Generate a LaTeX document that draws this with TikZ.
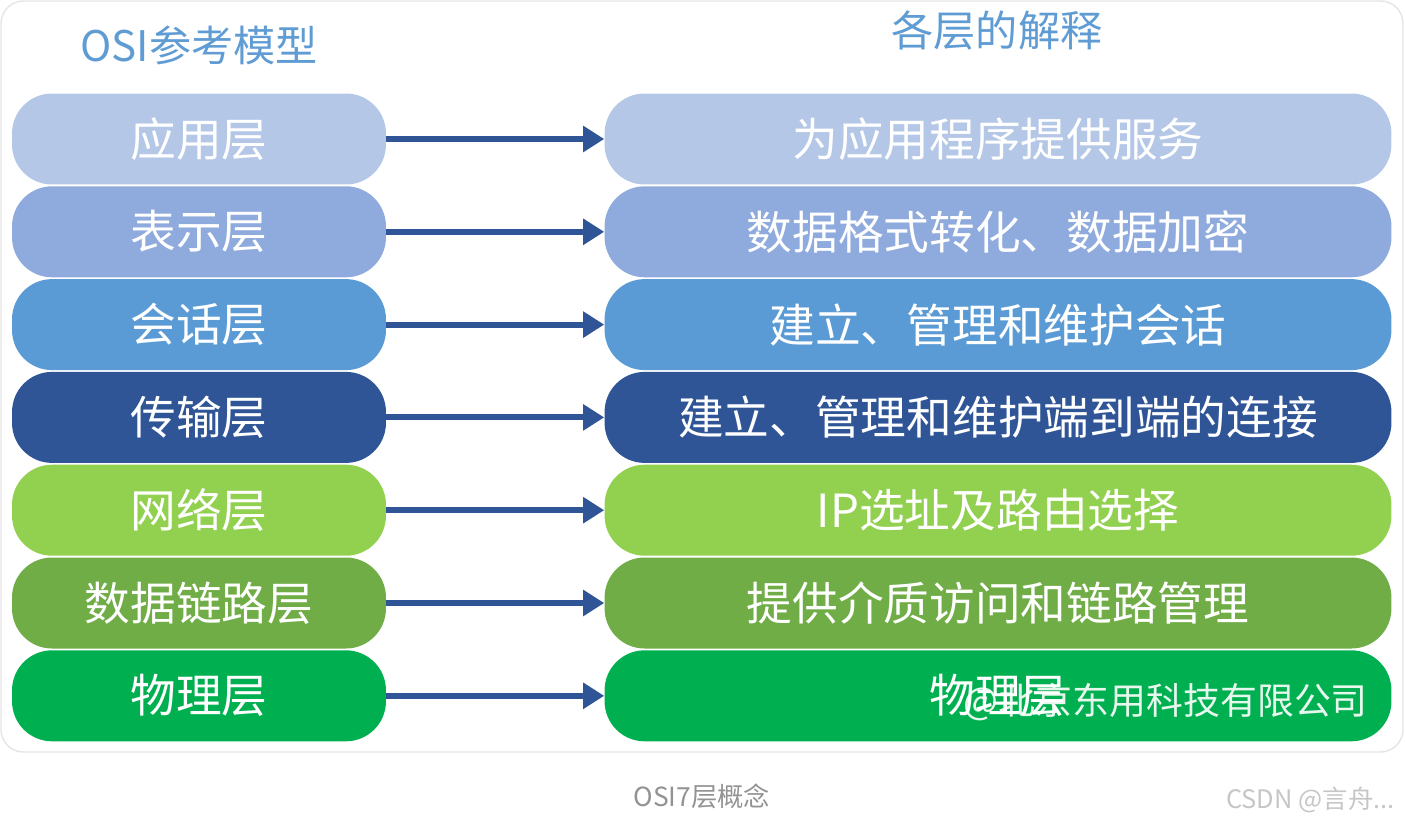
\documentclass[tikz,border=0pt]{standalone}
\usepackage{fontspec}
\setmainfont{Noto Sans CJK SC}
\usepackage{tikz}
\usetikzlibrary{arrows.meta}
\usepackage{xcolor}

\definecolor{appcol}{RGB}{180,199,231}
\definecolor{precol}{RGB}{143,170,220}
\definecolor{sescol}{RGB}{91,155,213}
\definecolor{tracol}{RGB}{47,85,151}
\definecolor{netcol}{RGB}{146,208,80}
\definecolor{lnkcol}{RGB}{112,173,71}
\definecolor{phycol}{RGB}{0,176,80}
\definecolor{headcol}{RGB}{96,156,212}
\definecolor{arrowcol}{RGB}{47,85,151}

\tikzset{
  layerbox/.style={rounded corners=0.8cm, minimum width=7.48cm, minimum height=1.82cm,
    text=white, font=\fontsize{26}{30}\selectfont, inner sep=0pt},
  explbox/.style={layerbox, minimum width=15.74cm},
  maparrow/.style={-{Triangle[length=0.42cm,width=0.5cm]}, line width=3.4pt, arrowcol},
}

\begin{document}
\begin{tikzpicture}[x=0.02cm,y=-0.02cm]
        \useasboundingbox (0,0) rectangle (1405,825);

        % Frame
        \draw[gray!20, line width=0.8pt, rounded corners=0.45cm] (1,1) rectangle (1403,752);

        % Headings
        \node[headcol, font=\fontsize{24}{28}\selectfont] (lefthead) at (199,45) {OSI参考模型};
        \node[headcol, font=\fontsize{24}{28}\selectfont] (righthead) at (997,30) {各层的解释};

        % Layers and their explanation
        \foreach \i/\col/\lname/\rname in {
            1/appcol/应用层/为应用程序提供服务,
            2/precol/表示层/数据格式转化、数据加密,
            3/sescol/会话层/建立、管理和维护会话,
            4/tracol/传输层/建立、管理和维护端到端的连接,
            5/netcol/网络层/IP选址及路由选择,
            6/lnkcol/数据链路层/提供介质访问和链路管理,
            7/phycol/物理层/物理层} {
          \node[layerbox, fill=\col] (L\i) at (199,{139+92.8*(\i-1)}) {\lname};
          \node[explbox, fill=\col] (R\i) at (998,{139+92.8*(\i-1)}) {\rname};
          \draw[maparrow] (L\i.east) -- (R\i.west);
        }

        % Watermark
        \node[white, opacity=0.9, anchor=east, font=\fontsize{21}{25}\selectfont] (mark) at (1374,702) {@北京东用科技有限公司};

        % Caption
        \node[gray!85, font=\fontsize{15}{18}\selectfont] (caption) at (702,796) {OSI7层概念};
        \node[gray!45, anchor=east, font=\fontsize{14.5}{17}\selectfont] (csdn) at (1401,800) {CSDN @言舟...};
    \end{tikzpicture}
\end{document}
